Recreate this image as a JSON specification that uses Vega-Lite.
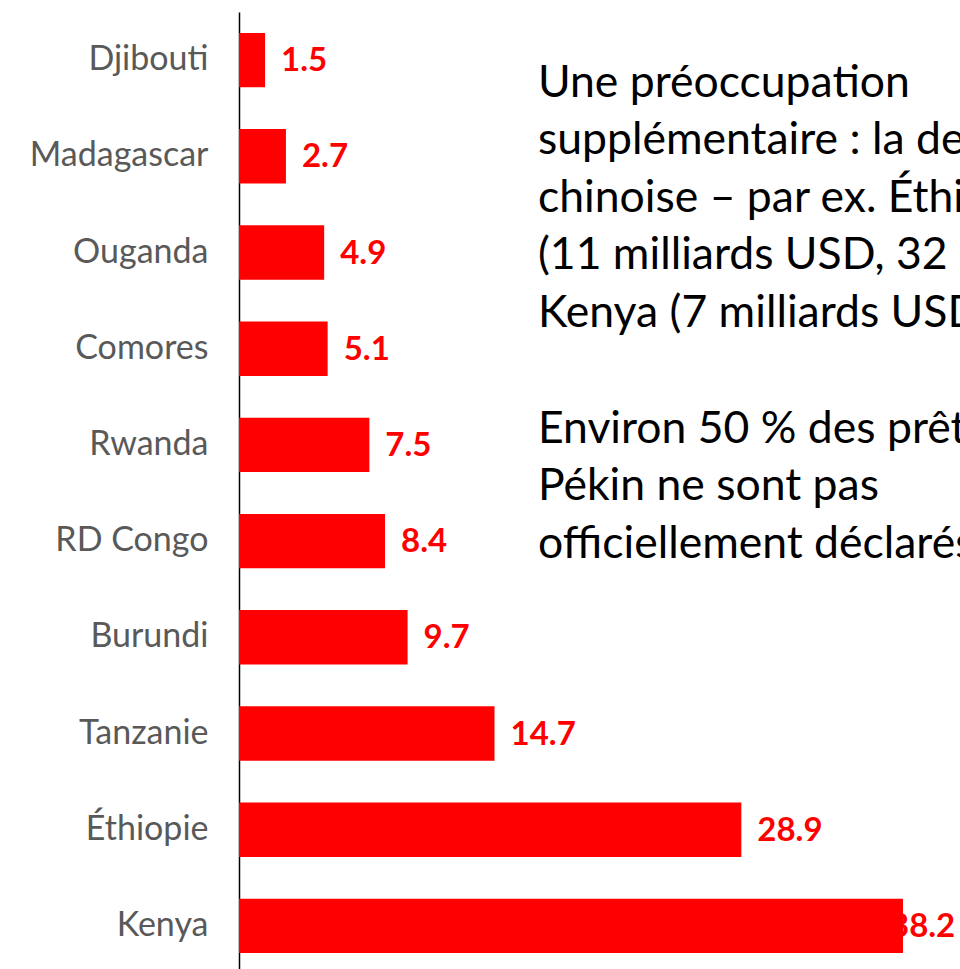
{
  "$schema": "https://vega.github.io/schema/vega-lite/v6.json",
  "width": 721,
  "height": 962,
  "autosize": {"type": "none"},
  "padding": {"left": 239, "top": 12, "right": 0, "bottom": 0},
  "background": "white",
  "config": {"view": {"stroke": null}},
  "datasets": {
    "dette": [
      {"pays": "Djibouti", "valeur": 1.5},
      {"pays": "Madagascar", "valeur": 2.7},
      {"pays": "Ouganda", "valeur": 4.9},
      {"pays": "Comores", "valeur": 5.1},
      {"pays": "Rwanda", "valeur": 7.5},
      {"pays": "RD Congo", "valeur": 8.4},
      {"pays": "Burundi", "valeur": 9.7},
      {"pays": "Tanzanie", "valeur": 14.7},
      {"pays": "Éthiopie", "valeur": 28.9},
      {"pays": "Kenya", "valeur": 38.2}
    ],
    "note1": [
      {"texte": "Une préoccupation\nsupplémentaire : la dette\nchinoise – par ex. Éthiopie\n(11 milliards USD, 32 % du PIB),\nKenya (7 milliards USD)"}
    ],
    "note2": [
      {"texte": "Environ 50 % des prêts de\nPékin ne sont pas\nofficiellement déclarés"}
    ]
  },
  "encoding": {
    "y": {
      "field": "pays",
      "type": "nominal",
      "sort": ["Djibouti", "Madagascar", "Ouganda", "Comores", "Rwanda", "RD Congo", "Burundi", "Tanzanie", "Éthiopie", "Kenya"],
      "scale": {"paddingInner": 0.435, "paddingOuter": 0.2175},
      "axis": {
        "title": null,
        "ticks": false,
        "tickSize": 0,
        "labelPadding": 31,
        "labelFont": "Lato",
        "labelFontSize": 34,
        "labelColor": "#595959",
        "domainColor": "#000000",
        "domainWidth": 1.5,
        "grid": false
      }
    }
  },
  "layer": [
    {
      "data": {"name": "dette"},
      "mark": {"type": "bar", "color": "#FF0000"},
      "encoding": {
        "x": {"field": "valeur", "type": "quantitative", "scale": {"domain": [0, 41.48], "nice": false, "zero": true}, "axis": null}
      }
    },
    {
      "data": {"name": "dette"},
      "transform": [{"filter": "datum.pays !== 'Kenya'"}],
      "mark": {"type": "text", "align": "left", "baseline": "middle", "dx": 16, "dy": 1, "font": "Lato", "fontSize": 33, "fontWeight": "bold", "color": "#FF0000"},
      "encoding": {
        "x": {"field": "valeur", "type": "quantitative"},
        "text": {"field": "valeur", "type": "quantitative", "format": ".1f"}
      }
    },
    {
      "data": {"name": "dette"},
      "transform": [{"filter": "datum.pays === 'Kenya'"}],
      "mark": {"type": "text", "align": "left", "baseline": "middle", "dx": -13, "dy": 1, "font": "Lato", "fontSize": 33, "fontWeight": "bold", "color": "#FF0000"},
      "encoding": {
        "x": {"field": "valeur", "type": "quantitative"},
        "text": {"field": "valeur", "type": "quantitative", "format": ".1f"}
      }
    },
    {
      "data": {"name": "note1"},
      "mark": {"type": "text", "align": "left", "baseline": "alphabetic", "lineBreak": "\n", "lineHeight": 57.4, "dy": 37, "font": "Lato", "fontSize": 44.5, "color": "#000000"},
      "encoding": {
        "x": {"datum": 17.2},
        "y": {"datum": "Djibouti"},
        "text": {"field": "texte"}
      }
    },
    {
      "data": {"name": "note2"},
      "mark": {"type": "text", "align": "left", "baseline": "alphabetic", "lineBreak": "\n", "lineHeight": 57.4, "dy": -2, "font": "Lato", "fontSize": 44.5, "color": "#000000"},
      "encoding": {
        "x": {"datum": 17.2},
        "y": {"datum": "Rwanda"},
        "text": {"field": "texte"}
      }
    }
  ]
}
